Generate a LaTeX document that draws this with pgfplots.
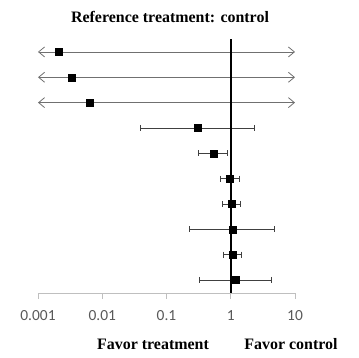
\documentclass[border=0pt]{standalone}
\usepackage{pgfplots}
\pgfplotsset{compat=1.18}
\usepackage{fontspec}
\setmainfont{Liberation Serif}
\newfontfamily\carlito{Carlito}
\usetikzlibrary{arrows.meta}
\definecolor{tickgray}{HTML}{595959}
\definecolor{axgray}{HTML}{BFBFBF}
\definecolor{argray}{HTML}{707070}
\definecolor{cigray}{HTML}{404040}
\begin{document}
\begin{tikzpicture}[x=1bp,y=1bp]
\useasboundingbox (0,0) rectangle (359,358);
\begin{axis}[
 at={(38bp,65bp)}, anchor=south west, scale only axis, width=257bp, height=254bp,
 xmode=log, xmin=0.001, xmax=10, ymin=0.487, ymax=10.51,
 axis y line=none, axis x line*=bottom, x axis line style={-, axgray, line width=0.8pt},
 xtick={0.001,0.01,0.1,1,10}, xticklabels={0.001,0.01,0.1,1,10},
 xminorticks=false, tick align=outside, major tick length=6bp,
 tick style={axgray, line width=0.8pt},
 xticklabel style={font=\carlito\fontsize{15.5}{17}\selectfont, text=tickgray, yshift=-8bp},
 clip=false,
]
% arrows (CI beyond range)
\addplot[argray, line width=0.8pt, {Straight Barb[length=6bp,width=10bp]}-{Straight Barb[length=6bp,width=10bp]}] coordinates {(0.001,10) (10,10)};
\addplot[argray, line width=0.8pt, {Straight Barb[length=6bp,width=10bp]}-{Straight Barb[length=6bp,width=10bp]}] coordinates {(0.001,9) (10,9)};
\addplot[argray, line width=0.8pt, {Straight Barb[length=6bp,width=10bp]}-{Straight Barb[length=6bp,width=10bp]}] coordinates {(0.001,8) (10,8)};
% confidence intervals
\addplot[cigray, line width=0.8pt, mark=|, mark size=3bp, mark options={solid, line width=0.8pt}] coordinates {(0.039,7) (2.36,7)};
\addplot[cigray, line width=0.8pt, mark=|, mark size=3bp, mark options={solid, line width=0.8pt}] coordinates {(0.31,6) (0.90,6)};
\addplot[cigray, line width=0.8pt, mark=|, mark size=3bp, mark options={solid, line width=0.8pt}] coordinates {(0.70,5) (1.34,5)};
\addplot[cigray, line width=0.8pt, mark=|, mark size=3bp, mark options={solid, line width=0.8pt}] coordinates {(0.74,4) (1.43,4)};
\addplot[cigray, line width=0.8pt, mark=|, mark size=3bp, mark options={solid, line width=0.8pt}] coordinates {(0.23,3) (4.8,3)};
\addplot[cigray, line width=0.8pt, mark=|, mark size=3bp, mark options={solid, line width=0.8pt}] coordinates {(0.78,2) (1.48,2)};
\addplot[cigray, line width=0.8pt, mark=|, mark size=3bp, mark options={solid, line width=0.8pt}] coordinates {(0.33,1) (4.3,1)};
% reference line
\addplot[black, line width=2.2pt] coordinates {(1,0.487) (1,10.51)};
% point estimates
\addplot[only marks, mark=square*, mark size=3.5bp, black] coordinates {
 (0.0021,10) (0.0034,9) (0.0064,8) (0.31,7) (0.54,6) (0.98,5) (1.03,4) (1.07,3) (1.08,2) (1.19,1)};
\end{axis}
\node[font=\bfseries\fontsize{16}{18}\selectfont] at (170,341) {Reference treatment: control};
\node[font=\bfseries\fontsize{16}{18}\selectfont] at (153,14) {Favor treatment};
\node[font=\bfseries\fontsize{16}{18}\selectfont] at (291,14) {Favor control};
\end{tikzpicture}
\end{document}
